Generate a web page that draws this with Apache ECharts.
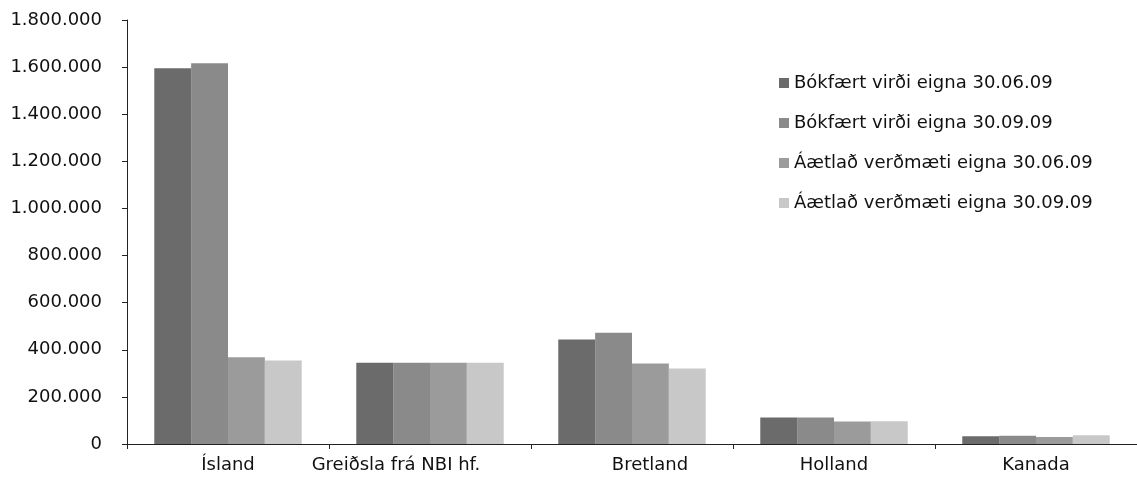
<!DOCTYPE html>
<html>
<head>
<meta charset="utf-8">
<script src="https://cdn.jsdelivr.net/npm/echarts@6/dist/echarts.min.js"></script>
<style>
  html, body { margin: 0; padding: 0; background: #fff; }
  #main { width: 1137px; height: 492px; }
</style>
</head>
<body>
<div id="main"></div>
<script>
const categories = ['Ísland', 'Greiðsla frá NBI hf.', 'Bretland', 'Holland', 'Kanada'];
const seriesNames = [
  'Bókfært virði eigna 30.06.09',
  'Bókfært virði eigna 30.09.09',
  'Áætlað verðmæti eigna 30.06.09',
  'Áætlað verðmæti eigna 30.09.09'
];
const bokfaert0609 = [1595000, 345000, 444000, 112000, 33000];
const bokfaert0909 = [1616000, 345000, 472000, 112000, 35000];
const aaetlad0609 = [368000, 345000, 342000, 96000, 30000];
const aaetlad0909 = [354000, 345000, 321000, 97000, 37000];
const yTicks = [0, 200000, 400000, 600000, 800000, 1000000, 1200000, 1400000, 1600000, 1800000];

const colors = ['#6b6b6b', '#8a8a8a', '#9b9b9b', '#c8c8c8'];
const values = [bokfaert0609, bokfaert0909, aaetlad0609, aaetlad0909];

function fmt(v) {
  return String(v).replace(/\B(?=(\d{3})+(?!\d))/g, '.');
}

const chart = echarts.init(document.getElementById('main'));

chart.setOption({
  animation: false,
  textStyle: { fontFamily: 'DejaVu Sans' },
  grid: { left: 127, right: 0, top: 20, bottom: 48 },
  legend: {
    orient: 'vertical',
    left: 774,
    top: 69,
    itemWidth: 10,
    itemHeight: 10,
    itemGap: 22,
    icon: 'rect',
    textStyle: { fontSize: 18, color: '#111', fontFamily: 'DejaVu Sans' },
    data: seriesNames
  },
  xAxis: {
    type: 'category',
    data: categories,
    axisLine: { lineStyle: { color: '#222', width: 1 } },
    axisTick: { show: true, length: 5, lineStyle: { color: '#222' } },
    axisLabel: {
      interval: 0,
      hideOverlap: false,
      fontSize: 18,
      color: '#111',
      margin: 12,
      formatter: function (v, i) {
        if (i === 1) return '{l|' + v + '}';
        if (i === 2) return '{r|' + v + '}';
        return v;
      },
      rich: {
        l: { fontSize: 18, color: '#111', padding: [0, 68, 0, 0] },
        r: { fontSize: 18, color: '#111', padding: [0, 0, 0, 36] }
      }
    }
  },
  yAxis: {
    type: 'value',
    min: yTicks[0],
    max: yTicks[yTicks.length - 1],
    interval: yTicks[1] - yTicks[0],
    splitLine: { show: false },
    axisLine: { show: true, lineStyle: { color: '#222', width: 1 } },
    axisTick: { show: true, length: 5, lineStyle: { color: '#222' } },
    axisLabel: {
      fontSize: 18,
      color: '#111',
      margin: 25,
      formatter: fmt
    }
  },
  series: seriesNames.map(function (name, i) {
    return {
      name: name,
      type: 'bar',
      data: values[i],
      barGap: '0%',
      barCategoryGap: '27%',
      itemStyle: { color: colors[i] }
    };
  })
});
</script>
</body>
</html>
